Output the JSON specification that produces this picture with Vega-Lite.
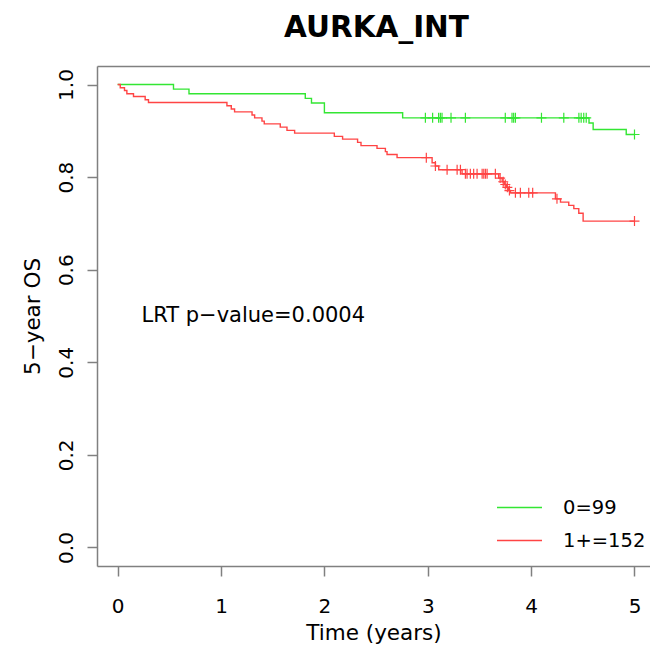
{
  "$schema": "https://vega.github.io/schema/vega-lite/v6.json",
  "autosize": {"type": "none"},
  "width": 553,
  "height": 500,
  "padding": {"left": 97, "top": 66, "right": 0, "bottom": 80},
  "background": "white",
  "config": {
    "view": {"stroke": null},
    "font": "DejaVu Sans",
    "axis": {"grid": false, "domainColor": "#808080", "domainWidth": 1.5, "tickColor": "#808080", "tickWidth": 1.5, "labelColor": "black", "titleColor": "black", "labelFont": "DejaVu Sans", "titleFont": "DejaVu Sans", "titleFontWeight": "normal"}
  },
  "title": {"text": "AURKA_INT", "fontSize": 29.5, "fontWeight": "bold", "font": "DejaVu Sans", "anchor": "middle", "baseline": "alphabetic", "offset": 0, "dx": 3, "color": "black"},
  "datasets": {
    "curves": [
      {"group": "0=99", "time": 0, "surv": 1.0},
      {"group": "0=99", "time": 0.54, "surv": 0.990},
      {"group": "0=99", "time": 0.69, "surv": 0.980},
      {"group": "0=99", "time": 1.815, "surv": 0.970},
      {"group": "0=99", "time": 1.875, "surv": 0.960},
      {"group": "0=99", "time": 2.0, "surv": 0.939},
      {"group": "0=99", "time": 2.757, "surv": 0.928},
      {"group": "0=99", "time": 4.56, "surv": 0.917},
      {"group": "0=99", "time": 4.60, "surv": 0.903},
      {"group": "0=99", "time": 4.92, "surv": 0.892},
      {"group": "0=99", "time": 5.0, "surv": 0.892},
      {"group": "1+=152", "time": 0, "surv": 1.0},
      {"group": "1+=152", "time": 0.025, "surv": 0.993},
      {"group": "1+=152", "time": 0.066, "surv": 0.987},
      {"group": "1+=152", "time": 0.089, "surv": 0.980},
      {"group": "1+=152", "time": 0.153, "surv": 0.974},
      {"group": "1+=152", "time": 0.266, "surv": 0.967},
      {"group": "1+=152", "time": 0.298, "surv": 0.961},
      {"group": "1+=152", "time": 1.057, "surv": 0.954},
      {"group": "1+=152", "time": 1.099, "surv": 0.947},
      {"group": "1+=152", "time": 1.131, "surv": 0.941},
      {"group": "1+=152", "time": 1.3, "surv": 0.934},
      {"group": "1+=152", "time": 1.325, "surv": 0.928},
      {"group": "1+=152", "time": 1.396, "surv": 0.921},
      {"group": "1+=152", "time": 1.418, "surv": 0.915},
      {"group": "1+=152", "time": 1.573, "surv": 0.908},
      {"group": "1+=152", "time": 1.638, "surv": 0.901},
      {"group": "1+=152", "time": 1.712, "surv": 0.895},
      {"group": "1+=152", "time": 2.096, "surv": 0.888},
      {"group": "1+=152", "time": 2.176, "surv": 0.882},
      {"group": "1+=152", "time": 2.321, "surv": 0.875},
      {"group": "1+=152", "time": 2.354, "surv": 0.868},
      {"group": "1+=152", "time": 2.509, "surv": 0.862},
      {"group": "1+=152", "time": 2.59, "surv": 0.855},
      {"group": "1+=152", "time": 2.606, "surv": 0.849},
      {"group": "1+=152", "time": 2.703, "surv": 0.842},
      {"group": "1+=152", "time": 3.042, "surv": 0.831},
      {"group": "1+=152", "time": 3.074, "surv": 0.824},
      {"group": "1+=152", "time": 3.106, "surv": 0.816},
      {"group": "1+=152", "time": 3.332, "surv": 0.807},
      {"group": "1+=152", "time": 3.686, "surv": 0.798},
      {"group": "1+=152", "time": 3.72, "surv": 0.790},
      {"group": "1+=152", "time": 3.74, "surv": 0.784},
      {"group": "1+=152", "time": 3.76, "surv": 0.778},
      {"group": "1+=152", "time": 3.78, "surv": 0.771},
      {"group": "1+=152", "time": 3.80, "surv": 0.766},
      {"group": "1+=152", "time": 4.235, "surv": 0.753},
      {"group": "1+=152", "time": 4.284, "surv": 0.746},
      {"group": "1+=152", "time": 4.364, "surv": 0.739},
      {"group": "1+=152", "time": 4.413, "surv": 0.732},
      {"group": "1+=152", "time": 4.461, "surv": 0.722},
      {"group": "1+=152", "time": 4.503, "surv": 0.705},
      {"group": "1+=152", "time": 5.0, "surv": 0.705}
    ],
    "censors": [
      {"group": "0=99", "time": 2.977, "surv": 0.928},
      {"group": "0=99", "time": 3.047, "surv": 0.928},
      {"group": "0=99", "time": 3.105, "surv": 0.928},
      {"group": "0=99", "time": 3.122, "surv": 0.928},
      {"group": "0=99", "time": 3.138, "surv": 0.928},
      {"group": "0=99", "time": 3.225, "surv": 0.928},
      {"group": "0=99", "time": 3.364, "surv": 0.928},
      {"group": "0=99", "time": 3.75, "surv": 0.928},
      {"group": "0=99", "time": 3.815, "surv": 0.928},
      {"group": "0=99", "time": 3.831, "surv": 0.928},
      {"group": "0=99", "time": 3.848, "surv": 0.928},
      {"group": "0=99", "time": 4.1, "surv": 0.928},
      {"group": "0=99", "time": 4.316, "surv": 0.928},
      {"group": "0=99", "time": 4.462, "surv": 0.928},
      {"group": "0=99", "time": 4.484, "surv": 0.928},
      {"group": "0=99", "time": 4.509, "surv": 0.928},
      {"group": "0=99", "time": 4.533, "surv": 0.928},
      {"group": "0=99", "time": 5.0, "surv": 0.892},
      {"group": "1+=152", "time": 2.986, "surv": 0.842},
      {"group": "1+=152", "time": 3.074, "surv": 0.824},
      {"group": "1+=152", "time": 3.187, "surv": 0.816},
      {"group": "1+=152", "time": 3.284, "surv": 0.816},
      {"group": "1+=152", "time": 3.316, "surv": 0.816},
      {"group": "1+=152", "time": 3.364, "surv": 0.807},
      {"group": "1+=152", "time": 3.38, "surv": 0.807},
      {"group": "1+=152", "time": 3.412, "surv": 0.807},
      {"group": "1+=152", "time": 3.444, "surv": 0.807},
      {"group": "1+=152", "time": 3.477, "surv": 0.807},
      {"group": "1+=152", "time": 3.526, "surv": 0.807},
      {"group": "1+=152", "time": 3.542, "surv": 0.807},
      {"group": "1+=152", "time": 3.558, "surv": 0.807},
      {"group": "1+=152", "time": 3.574, "surv": 0.807},
      {"group": "1+=152", "time": 3.654, "surv": 0.807},
      {"group": "1+=152", "time": 3.70, "surv": 0.798},
      {"group": "1+=152", "time": 3.73, "surv": 0.790},
      {"group": "1+=152", "time": 3.75, "surv": 0.784},
      {"group": "1+=152", "time": 3.77, "surv": 0.778},
      {"group": "1+=152", "time": 3.79, "surv": 0.771},
      {"group": "1+=152", "time": 3.848, "surv": 0.766},
      {"group": "1+=152", "time": 3.896, "surv": 0.766},
      {"group": "1+=152", "time": 3.977, "surv": 0.766},
      {"group": "1+=152", "time": 4.015, "surv": 0.766},
      {"group": "1+=152", "time": 4.25, "surv": 0.753},
      {"group": "1+=152", "time": 5.0, "surv": 0.705}
    ],
    "notes": [
      {"label": "LRT p−value=0.0004"}
    ]
  },
  "resolve": {"scale": {"x": "shared", "y": "shared", "color": "shared"}, "axis": {"x": "independent"}},
  "layer": [
    {
      "data": {"name": "curves"},
      "mark": {"type": "line", "interpolate": "step-after", "strokeWidth": 1.4},
      "encoding": {
        "x": {"field": "time", "type": "quantitative", "scale": {"domain": [-0.2, 5.15], "nice": false, "zero": false},
              "axis": {"orient": "bottom", "values": [0, 1, 2, 3, 4, 5], "format": "d", "tickSize": 10, "labelFontSize": 20, "labelPadding": 20, "title": "Time (years)", "titleFontSize": 21.5, "titlePadding": 6, "labelFlush": false, "domain": true}},
        "y": {"field": "surv", "type": "quantitative", "scale": {"domain": [-0.04, 1.04], "nice": false, "zero": false},
              "axis": {"values": [0, 0.2, 0.4, 0.6, 0.8, 1.0], "format": ".1f", "tickSize": 10, "labelFontSize": 20, "labelAngle": -90, "labelAlign": "center", "labelBaseline": "alphabetic", "labelPadding": 15, "title": "5−year OS", "titleFontSize": 21.5, "titlePadding": 12, "labelFlush": false, "domain": true}},
        "color": {"field": "group", "type": "nominal",
                  "scale": {"domain": ["0=99", "1+=152"], "range": ["#33e633", "#ff4444"]},
                  "legend": {"orient": "none", "legendX": 399, "legendY": 418, "title": null, "symbolType": "stroke", "symbolSize": 2025, "symbolStrokeWidth": 1.5, "labelFontSize": 19.5, "labelFont": "DejaVu Sans", "labelColor": "black", "labelOffset": 20, "rowPadding": -17, "padding": 0}},
        "detail": {"field": "group"}
      }
    },
    {
      "data": {"name": "censors"},
      "mark": {"type": "point", "shape": "M-1,0H1M0,-1V1", "size": 100, "filled": false, "strokeWidth": 1.2, "opacity": 1},
      "encoding": {
        "x": {"field": "time", "type": "quantitative", "axis": {"orient": "top", "values": [], "ticks": false, "labels": false, "title": null, "domain": true}},
        "y": {"field": "surv", "type": "quantitative"},
        "color": {"field": "group", "type": "nominal"}
      }
    },
    {
      "data": {"name": "notes"},
      "mark": {"type": "text", "align": "left", "baseline": "middle", "fontSize": 21, "font": "DejaVu Sans", "color": "black"},
      "encoding": {
        "x": {"datum": 0.23, "type": "quantitative", "axis": null},
        "y": {"datum": 0.5, "type": "quantitative"},
        "text": {"field": "label"}
      }
    }
  ]
}
